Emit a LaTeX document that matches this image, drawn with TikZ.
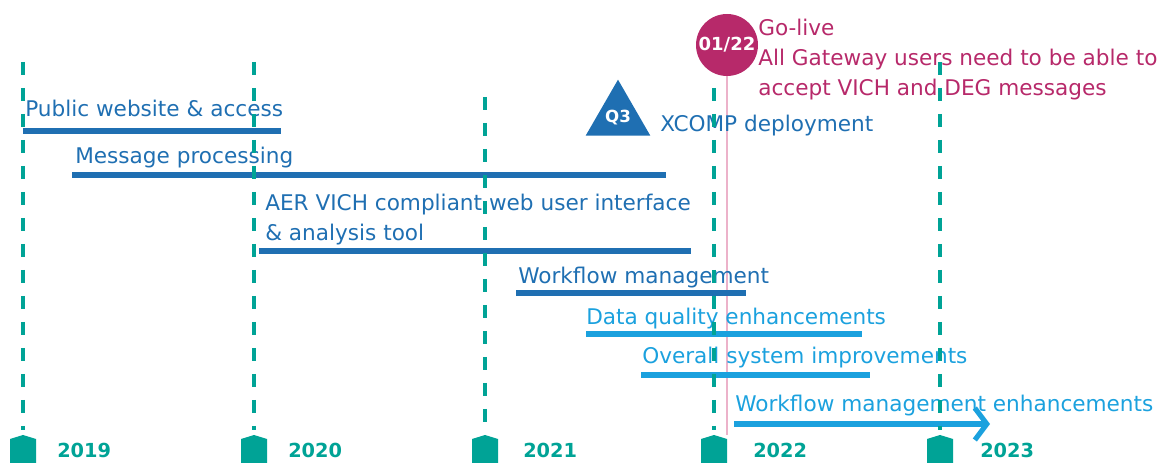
\documentclass[tikz,border=0pt]{standalone}
\usepackage{fontspec}
\setmainfont{DejaVu Sans}
\usetikzlibrary{arrows.meta,shapes.geometric}

\definecolor{tlteal}{RGB}{0,163,150}
\definecolor{darkbar}{RGB}{31,111,178}
\definecolor{lightbar}{RGB}{27,161,222}
\definecolor{golivered}{RGB}{183,41,106}
\definecolor{golivepink}{RGB}{236,178,202}

\tikzset{
  yearline/.style={tlteal,line width=2.4pt,dash pattern=on 10pt off 9.5pt},
  yeartext/.style={tlteal,anchor=base west,inner sep=0pt,font=\fontsize{14.5}{16}\selectfont\bfseries},
  bar/.style={line width=3.8pt},
  lbl/.style={anchor=base west,inner sep=0pt,font=\fontsize{16.2}{19}\selectfont},
}

\begin{document}
\begin{tikzpicture}[x=0.75pt,y=-0.75pt]
  \useasboundingbox (0,0) rectangle (1165,463);
  % go-live milestone
  \node[circle,fill=golivered,minimum size=46.5pt,inner sep=0pt,text=white,
        font=\fontsize{13.5}{15}\selectfont\bfseries] (golive) at (727,45) {01/22};
  \coordinate (golive end) at (727,435);
  \draw[golivepink,line width=1.4pt] (golive.south) -- (golive end);
  \node[lbl,golivered] (golive t1) at (758,36) {Go-live};
  \node[lbl,golivered] (golive t2) at (758,66) {All Gateway users need to be able to};
  \node[lbl,golivered] (golive t3) at (758,96) {accept VICH and DEG messages};
  % XCOMP
  \node[regular polygon,regular polygon sides=3,fill=darkbar,minimum size=56pt,inner sep=0pt] (xcomp) at (618,117) {};
  \node[text=white,font=\fontsize{12.5}{14}\selectfont\bfseries] (xcomp q) at (618,118) {Q3};
  \node[lbl,darkbar] (xcomp t) at (660,132) {XCOMP deployment};
  % work packages
  \node[lbl,darkbar] (public) at (25,117) {Public website \& access};
  \draw[bar,darkbar] (23,131) -- (281,131);
  \node[lbl,darkbar] (message) at (75,164) {Message processing};
  \draw[bar,darkbar] (72,175) -- (666,175);
  \node[lbl,darkbar] (aer1) at (265,211) {AER VICH compliant web user interface};
  \node[lbl,darkbar] (aer2) at (265,241) {\& analysis tool};
  \draw[bar,darkbar] (259,251) -- (691,251);
  \node[lbl,darkbar] (workflow) at (518,284) {Workflow management};
  \draw[bar,darkbar] (516,293) -- (746,293);
  \node[lbl,lightbar] (quality) at (586,325) {Data quality enhancements};
  \draw[bar,lightbar] (586,334) -- (862,334);
  \node[lbl,lightbar] (overall) at (642,364) {Overall system improvements};
  \draw[bar,lightbar] (641,375) -- (870,375);
  \node[lbl,lightbar] (wfenh) at (735,412) {Workflow management enhancements};
  \draw[bar,lightbar,-{Straight Barb[length=9pt,width=24pt]}] (734,424) -- (990,424);
  % year grid and markers
  \foreach \x/\top/\yx/\yr in {23/62/57/2019,254/62/288/2020,485/97/523/2021,714/88/753/2022,940/62/980/2023}{
    \draw[yearline] (\x,\top) -- (\x,430);
    \fill[tlteal] (\x-13,463) -- (\x-13,439) -- (\x,435) -- (\x+13,439) -- (\x+13,463) -- cycle;
    \node[yeartext] (y\yr) at (\yx,458) {\yr};
  }
\end{tikzpicture}
\end{document}
